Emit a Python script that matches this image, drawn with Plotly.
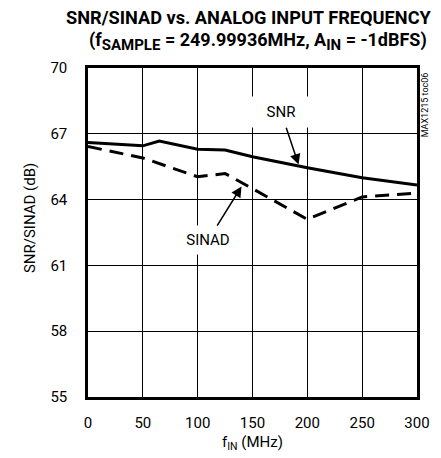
import plotly.graph_objects as go

# Data
snr_freq = [0, 50, 65, 100, 125, 150, 200, 250, 300]
snr_db = [66.6, 66.45, 66.67, 66.3, 66.26, 65.95, 65.45, 65.0, 64.66]

sinad_freq = [0, 50, 100, 125, 150, 200, 250, 300]
sinad_db = [66.42, 65.9, 65.04, 65.19, 64.5, 63.1, 64.12, 64.3]

x_ticks = [0, 50, 100, 150, 200, 250, 300]
y_ticks = [55, 58, 61, 64, 67, 70]

FONT = "Roboto, Liberation Sans, sans-serif"

fig = go.Figure()
fig.add_trace(go.Scatter(x=snr_freq, y=snr_db, mode="lines",
                         line=dict(color="black", width=3), name="SNR"))
fig.add_trace(go.Scatter(x=sinad_freq, y=sinad_db, mode="lines",
                         line=dict(color="black", width=3, dash="14px,8px"), name="SINAD"))

fig.update_layout(
    width=441, height=458,
    margin=dict(l=88, r=24, t=68, b=61),
    paper_bgcolor="white", plot_bgcolor="white",
    showlegend=False,
    font=dict(family=FONT, size=15, color="black"),
    xaxis=dict(range=[0, 300], tickvals=x_ticks, ticks="", showgrid=True,
               gridcolor="black", gridwidth=1, showline=True, linecolor="black",
               linewidth=2.5, mirror=True, zeroline=False,
               tickfont=dict(size=15), ticklabelstandoff=10),
    yaxis=dict(range=[55, 70], tickvals=y_ticks, ticks="", showgrid=True,
               gridcolor="black", gridwidth=1, showline=True, linecolor="black",
               linewidth=2.5, mirror=True, zeroline=False,
               tickfont=dict(size=15), ticklabelstandoff=15),
)

# Title (two lines)
fig.add_annotation(text="<b>SNR/SINAD vs. ANALOG INPUT FREQUENCY</b>",
                   xref="paper", yref="paper", x=1.052, y=1.152,
                   xanchor="right", yanchor="middle", showarrow=False,
                   font=dict(size=18.2))
fig.add_annotation(text="<b>(f<sub><span style='font-size:15px'>SAMPLE</span></sub> = 249.99936MHz, "
                        "A<sub><span style='font-size:15px'>IN</span></sub> = -1dBFS)</b>",
                   xref="paper", yref="paper", x=1.037, y=1.082,
                   xanchor="right", yanchor="middle", showarrow=False,
                   font=dict(size=18))

fig.add_annotation(text="f<sub>IN</sub> (MHz)", xref="paper", yref="paper",
                   x=0.5, y=-0.14, xanchor="center", yanchor="middle",
                   showarrow=False, font=dict(size=15))
fig.add_annotation(text="SNR/SINAD (dB)", xref="paper", yref="paper",
                   x=-0.176, y=0.544, textangle=-90, xanchor="center", yanchor="middle",
                   showarrow=False, font=dict(size=15))
fig.add_annotation(text="MAX1215 toc06", xref="paper", yref="paper",
                   x=1.027, y=0.994, textangle=-90, xanchor="center", yanchor="top",
                   showarrow=False, font=dict(size=9))

fig.add_annotation(text="SNR", x=192, y=65.6, ax=176, ay=67.98, xref="x", yref="y",
                   axref="x", ayref="y", showarrow=True, arrowhead=2, arrowsize=1.4,
                   arrowwidth=1.5, arrowcolor="black", bgcolor="white",
                   width=60, height=30, borderpad=0, font=dict(size=15), standoff=0)
fig.add_annotation(text="SINAD", x=140, y=64.6, ax=109.6, ay=62.15, xref="x", yref="y",
                   axref="x", ayref="y", showarrow=True, arrowhead=2, arrowsize=1.4,
                   arrowwidth=1.5, arrowcolor="black", bgcolor="white",
                   width=50, height=28, borderpad=0, font=dict(size=15), standoff=0)

fig.write_html("out.html", config={"displayModeBar": False},
               post_script="document.body.style.margin='0px';")
